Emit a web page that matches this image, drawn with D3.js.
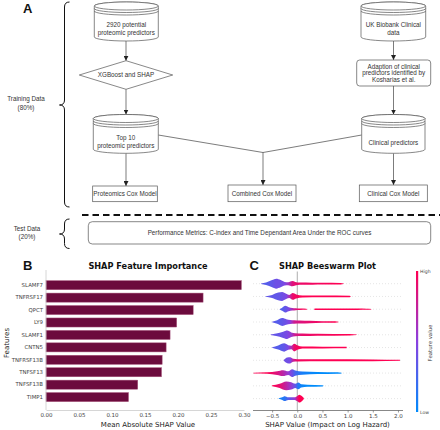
<!DOCTYPE html>
<html><head><meta charset="utf-8">
<script src="https://cdn.jsdelivr.net/npm/d3@7"></script>
<style>body{margin:0;background:#fff}svg{display:block}</style>
</head><body><svg id="c" width="440" height="430"></svg>
<script>
// ---------- DATA ----------
const features = ["SLAMF7","TNFRSF17","QPCT","LY9","SLAMF1","CNTN5","TNFRSF13B","TNFSF13","TNFSF13B","TIMP1"];
const importance = [0.296,0.238,0.223,0.198,0.188,0.182,0.176,0.175,0.139,0.125];
const importanceTicks = [0,0.05,0.10,0.15,0.20,0.25,0.30];
const shapTicks = [-0.5,0,0.5,1,1.5,2];
// beeswarm density profiles: [shap value, relative density, mean feature value]
const swarmProfiles = [
 [[-0.72,0.05,0.35],[-0.62,0.25,0.3],[-0.5,0.7,0.35],[-0.42,0.95,0.4],[-0.33,0.7,0.4],[-0.25,0.35,0.45],[-0.18,0.3,0.6],[-0.1,0.5,0.85],[-0.04,0.35,0.9],[0.05,0.22,0.92],[0.3,0.2,0.95],[0.5,0.16,0.97],[0.86,0.13,1],[0.92,0.05,1]],
 [[-0.63,0.05,0.35],[-0.5,0.3,0.35],[-0.38,0.75,0.35],[-0.3,0.85,0.4],[-0.22,0.5,0.45],[-0.16,0.3,0.65],[-0.09,0.65,0.92],[-0.02,0.4,0.95],[0.1,0.2,1],[0.5,0.17,1],[1.04,0.14,1],[1.06,0.05,1]],
 [[-0.35,0.05,0.3],[-0.3,0.3,0.3],[-0.24,0.65,0.35],[-0.17,0.4,0.45],[-0.1,0.25,0.65],[-0.03,0.18,0.85],[0.05,0.13,0.95],[0.18,0.11,1],[0.2,0.0,1],[0.33,0.0,1],[0.35,0.13,1],[1.2,0.13,1],[1.38,0.1,1],[1.47,0.05,1]],
 [[-0.5,0.05,0.35],[-0.4,0.35,0.3],[-0.3,0.75,0.35],[-0.22,0.55,0.4],[-0.14,0.4,0.5],[-0.06,0.35,0.78],[0.05,0.3,0.85],[0.25,0.22,0.9],[0.5,0.15,0.95],[0.75,0.13,1],[0.82,0.05,1]],
 [[-0.53,0.05,0.4],[-0.42,0.25,0.35],[-0.28,0.6,0.4],[-0.2,0.8,0.45],[-0.12,0.45,0.55],[-0.04,0.3,0.8],[0.1,0.25,0.9],[0.4,0.18,0.95],[1.04,0.13,1],[1.18,0.05,1]],
 [[-0.5,0.05,0.35],[-0.38,0.4,0.3],[-0.26,0.8,0.35],[-0.18,0.45,0.45],[-0.12,0.35,0.65],[-0.06,0.75,0.92],[0.0,0.45,0.95],[0.1,0.2,1],[0.5,0.17,1],[0.98,0.13,1]],
 [[-0.27,0.05,0.4],[-0.2,0.55,0.4],[-0.14,0.6,0.45],[-0.08,0.3,0.75],[0.0,0.22,0.95],[0.5,0.19,1],[1.5,0.17,1],[2.04,0.1,1]],
 [[-0.87,0.08,1],[-0.6,0.15,1],[-0.4,0.35,0.85],[-0.28,0.55,0.7],[-0.18,0.35,0.55],[-0.1,0.75,0.4],[-0.04,0.5,0.25],[0.1,0.3,0.08],[0.4,0.2,0],[0.8,0.15,0],[0.88,0.08,0]],
 [[-0.5,0.1,1],[-0.35,0.4,0.9],[-0.22,0.85,0.72],[-0.12,0.7,0.55],[-0.04,0.4,0.35],[0.02,0.65,0.12],[0.08,0.3,0.05],[0.2,0.2,0],[0.5,0.13,0],[0.52,0.05,0]],
 [[-0.37,0.05,0.05],[-0.3,0.25,0.1],[-0.25,0.45,0.15],[-0.18,0.25,0.3],[-0.05,0.25,0.55],[0.0,0.5,0.85],[0.04,0.75,1],[0.09,0.5,1],[0.13,0.1,1]]
];
const flowText = {
  proteomic: ["2920 potential","proteomic predictors"],
  xgb: ["XGBoost and SHAP"],
  top10: ["Top 10","proteomic predictors"],
  protModel: ["Proteomics Cox Model"],
  ukb: ["UK Biobank Clinical","data"],
  adapt: ["Adaption of clinical","predictors identified by","Kosharias et al."],
  clinPred: ["Clinical predictors"],
  combModel: ["Combined Cox Model"],
  clinModel: ["Clinical Cox Model"],
  perf: ["Performance Metrics: C-index and Time Dependant Area Under the ROC curves"],
  train: ["Training Data","(80%)"],
  test: ["Test Data","(20%)"]
};

// ---------- SETUP ----------
const svg = d3.select("#c");
const defs = svg.append("defs");
defs.append("marker").attr("id","arr").attr("viewBox","0 0 10 10").attr("refX",10).attr("refY",5)
  .attr("markerWidth",5).attr("markerHeight",5).attr("orient","auto").attr("markerUnits","userSpaceOnUse")
  .append("path").attr("d","M0,0L10,5L0,10z").attr("fill","#222");

const FF = "'Liberation Sans', Arial, sans-serif";
const MF = "'DejaVu Sans', sans-serif";
const stroke = "#555";
const FS = 6.3;

// ---------- PANEL A ----------
const A = svg.append("g");
A.append("text").attr("x",23).attr("y",12.5).text("A").attr("font-family",FF).attr("font-weight","bold").attr("font-size",13).attr("fill","#111");

function label(g, cx, cy, lines, size=FS, lh=8) {
  const t = g.append("text").attr("font-family",FF).attr("font-size",size).attr("fill","#333").attr("text-anchor","middle");
  const y0 = cy - (lines.length-1)*lh/2;
  lines.forEach((l,i)=> t.append("tspan").attr("x",cx).attr("y",y0+i*lh).attr("dy","0.35em").text(l));
}
function cyl(x0,y0,x1,y1,lines,ty) {
  const rx=(x1-x0)/2, ry=4, cx=(x0+x1)/2;
  A.append("path").attr("d",`M${x0},${y0+ry}L${x0},${y1-ry}A${rx},${ry} 0 0 0 ${x1},${y1-ry}L${x1},${y0+ry}A${rx},${ry} 0 0 0 ${x0},${y0+ry}Z`)
    .attr("fill","#fff").attr("stroke",stroke).attr("stroke-width",0.7);
  A.append("ellipse").attr("cx",cx).attr("cy",y0+ry).attr("rx",rx).attr("ry",ry).attr("fill","#fff").attr("stroke",stroke).attr("stroke-width",0.7);
  [2.5,5].forEach(k=>A.append("path").attr("d",`M${x0},${y0+ry+k}A${rx},${ry} 0 0 0 ${x1},${y0+ry+k}`).attr("fill","none").attr("stroke",stroke).attr("stroke-width",0.7));
  label(A,cx,ty,lines);
}
function box(x0,y0,x1,y1,lines,r=0,lh=8) {
  A.append("rect").attr("x",x0).attr("y",y0).attr("width",x1-x0).attr("height",y1-y0).attr("rx",r)
    .attr("fill","#fff").attr("stroke",stroke).attr("stroke-width",0.7);
  label(A,(x0+x1)/2,(y0+y1)/2,lines,FS,lh);
}
function arrow(pts) {
  A.append("path").attr("d",d3.line()(pts)).attr("fill","none").attr("stroke","#444").attr("stroke-width",0.7).attr("marker-end","url(#arr)");
}
function brace(x,y0,y1,ym){
  const w=5;
  A.append("path").attr("d",`M${x+w},${y0}Q${x},${y0} ${x},${y0+w}L${x},${ym-w}Q${x},${ym} ${x-w},${ym}Q${x},${ym} ${x},${ym+w}L${x},${y1-w}Q${x},${y1} ${x+w},${y1}`)
    .attr("fill","none").attr("stroke","#111").attr("stroke-width",1);
}

A.append("path").attr("d",d3.line()([[158.3,135],[263,152.5],[361.7,135]])).attr("fill","none").attr("stroke","#444").attr("stroke-width",0.7);
arrow([[126,41],[126,60.7]]);
arrow([[126,89.3],[126,114.5]]);
arrow([[126,153.3],[126,186]]);
arrow([[393.5,41],[393.5,60]]);
arrow([[393.5,86],[393.5,114.5]]);
arrow([[393.5,153.3],[393.5,185]]);
arrow([[263,152.5],[263,185]]);

cyl(94.3,2,158.3,41,flowText.proteomic,28.5);
A.append("path").attr("d",`M126,60.7L172.7,75L126,89.3L79.3,75Z`).attr("fill","#fff").attr("stroke",stroke).attr("stroke-width",0.7);
label(A,126,75,flowText.xgb);
cyl(93.3,114.5,158.3,153.3,flowText.top10,142.2);
box(92.7,186,157.3,201.7,flowText.protModel);
cyl(361,2,425.7,41,flowText.ukb,28.5);
box(356.7,60,430.7,86,flowText.adapt,3,6.5);
cyl(361.7,114.5,425,153.3,flowText.clinPred,142.7);
box(228,185,296,201.7,flowText.combModel);
box(359.3,185,427.3,201.7,flowText.clinModel);

A.append("line").attr("x1",82).attr("x2",440).attr("y1",215).attr("y2",215).attr("stroke","#111").attr("stroke-width",1.8).attr("stroke-dasharray","6.5,4");
box(88.3,221.7,430.7,244,flowText.perf,4);

brace(64.5,2,207,105);
brace(64.5,219,248.5,234);
label(A,26,103.5,flowText.train,FS,8.5);
label(A,27,232.5,flowText.test,FS,8);

// ---------- PANEL B ----------
const B = svg.append("g");
const xB = d3.scaleLinear().domain([0,0.30]).range([46,244]);
const yB = d3.scaleBand().domain(features).range([277.3,405]).padding(0.27);
B.append("text").attr("x",23).attr("y",269.5).text("B").attr("font-family",FF).attr("font-weight","bold").attr("font-size",13).attr("fill","#111");
B.append("text").attr("x",148).attr("y",269).attr("text-anchor","middle").attr("font-family",MF).attr("font-weight","bold").attr("font-size",8.2).attr("fill","#111").text("SHAP Feature Importance");
B.selectAll("rect.bar").data(features).join("rect").attr("class","bar")
  .attr("x",xB(0)).attr("y",d=>yB(d)).attr("height",yB.bandwidth())
  .attr("width",(d,i)=>xB(importance[i])-xB(0))
  .attr("fill","#6c0b3d").attr("stroke","#a8577d").attr("stroke-width",0.5);
const axB = B.append("g").attr("transform","translate(0,410)")
  .call(d3.axisBottom(xB).tickValues(importanceTicks).tickFormat(d3.format(".2f")).tickSize(0).tickPadding(3.5));
axB.select(".domain").attr("stroke","#ccc").attr("stroke-width",0.8);
axB.selectAll("text").attr("font-family",MF).attr("font-size",5.5).attr("fill","#444");
const ayB = B.append("g").attr("transform","translate(46,0)")
  .call(d3.axisLeft(yB).tickSize(0).tickPadding(3));
ayB.select(".domain").attr("d","M0,270V410").attr("stroke","#ccc").attr("stroke-width",0.8);
ayB.selectAll("text").attr("font-family",MF).attr("font-size",5.4).attr("fill","#444");
B.append("text").attr("x",148).attr("y",426.5).attr("text-anchor","middle").attr("font-family",MF).attr("font-size",7).attr("fill","#222").text("Mean Absolute SHAP Value");
B.append("text").attr("transform","translate(9,343) rotate(-90)").attr("text-anchor","middle").attr("font-family",MF).attr("font-size",7).attr("fill","#222").text("Features");

// ---------- PANEL C ----------
const C = svg.append("g");
const xC = d3.scaleLinear().domain([-0.88,2.1]).range([253,403]);
const yC = d3.scalePoint().domain(features).range([283.7,398.6]);
const col = d3.scaleLinear().domain([0,0.5,1]).range(["#008bfb","#8a40e0","#ff0052"]).interpolate(d3.interpolateRgb);
const hC = d3.scaleLinear().domain([0,1]).range([0,5.2]);
C.append("text").attr("x",249.5).attr("y",269.5).text("C").attr("font-family",FF).attr("font-weight","bold").attr("font-size",13).attr("fill","#111");
C.append("text").attr("x",327.5).attr("y",269).attr("text-anchor","middle").attr("font-family",MF).attr("font-weight","bold").attr("font-size",8.2).attr("fill","#111").text("SHAP Beeswarm Plot");
C.selectAll("line.row").data(features).join("line").attr("class","row")
  .attr("x1",253).attr("x2",403).attr("y1",d=>yC(d)).attr("y2",d=>yC(d))
  .attr("stroke","#ccc").attr("stroke-width",0.5).attr("stroke-dasharray","1,2");
C.append("line").attr("x1",xC(0)).attr("x2",xC(0)).attr("y1",271.5).attr("y2",410).attr("stroke","#999").attr("stroke-width",0.8);
swarmProfiles.forEach((prof,i)=>{
  const y0 = yC(features[i]);
  const xmin = prof[0][0], xmax = prof[prof.length-1][0];
  const g = defs.append("linearGradient").attr("id","sg"+i).attr("gradientUnits","userSpaceOnUse")
    .attr("x1",xC(xmin)).attr("x2",xC(xmax)).attr("y1",0).attr("y2",0);
  prof.forEach(p=>g.append("stop").attr("offset",(p[0]-xmin)/(xmax-xmin)).attr("stop-color",col(p[2])));
  const area = d3.area().x(p=>xC(p[0])).y0(p=>y0-hC(p[1])).y1(p=>y0+hC(p[1])).curve(d3.curveMonotoneX);
  C.append("path").attr("d",area(prof)).attr("fill",`url(#sg${i})`);
});
const axC = C.append("g").attr("transform","translate(0,410.5)")
  .call(d3.axisBottom(xC).tickValues(shapTicks).tickFormat(d=>d3.format(".1f")(d).replace("-","\u2212")).tickSize(2).tickPadding(2));
axC.select(".domain").attr("d","M253,0H403").attr("stroke","#555").attr("stroke-width",0.7);
axC.selectAll(".tick line").attr("stroke","#555").attr("stroke-width",0.6);
axC.selectAll("text").attr("font-family",MF).attr("font-size",5.5).attr("fill","#444");
C.append("text").attr("x",327.5).attr("y",426.5).attr("text-anchor","middle").attr("font-family",MF).attr("font-size",7).attr("fill","#222").text("SHAP Value (Impact on Log Hazard)");
const cb = defs.append("linearGradient").attr("id","cbar").attr("x1",0).attr("x2",0).attr("y1",1).attr("y2",0);
[0,0.25,0.5,0.75,1].forEach(t=>cb.append("stop").attr("offset",t).attr("stop-color",col(t)));
C.append("rect").attr("x",416).attr("y",271).attr("width",2.2).attr("height",141).attr("fill","url(#cbar)");
C.append("text").attr("x",420).attr("y",273).attr("font-family",MF).attr("font-size",4.6).attr("fill","#444").text("High");
C.append("text").attr("x",420).attr("y",414).attr("font-family",MF).attr("font-size",4.6).attr("fill","#444").text("Low");
C.append("text").attr("transform","translate(431.5,343) rotate(-90)").attr("text-anchor","middle").attr("font-family",MF).attr("font-size",5.4).attr("fill","#444").text("Feature value");
</script></body></html>
